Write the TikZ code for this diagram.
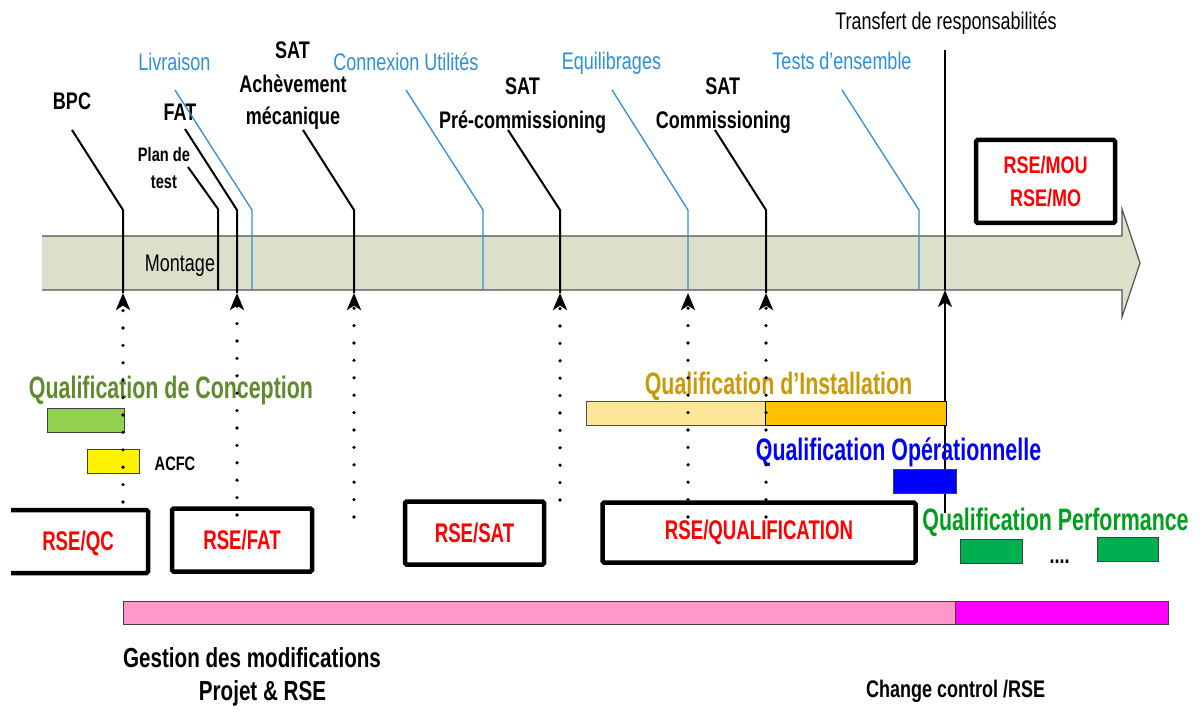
\documentclass[tikz,border=0pt]{standalone}
\usepackage{fontspec}
\setmainfont{Liberation Sans}[FakeStretch=0.75]
\newfontfamily\narrowfont{Liberation Sans}[FakeStretch=0.69]
\usetikzlibrary{arrows.meta}
\definecolor{bandfill}{HTML}{DCE0CA}
\definecolor{bandline}{HTML}{505050}
\definecolor{skyblue}{HTML}{2F8FD8}
\definecolor{goldtxt}{HTML}{C99A06}
\definecolor{lightgold}{HTML}{FFE599}
\definecolor{orangebar}{HTML}{FFC000}
\definecolor{qcgreen}{HTML}{5E8B2E}
\definecolor{qcbar}{HTML}{92D050}
\definecolor{qpgreen}{HTML}{009E1E}
\definecolor{qpbar}{HTML}{00B050}
\definecolor{pinkbar}{HTML}{FF99CC}
\definecolor{magbar}{HTML}{FF00FF}
\begin{document}
\begin{tikzpicture}[x=1pt,y=-1pt,
  lbl/.style={inner sep=0pt, anchor=base, font=\fontsize{24}{28}\selectfont\bfseries},
  lblreg/.style={inner sep=0pt, anchor=base, font=\fontsize{24}{28}\selectfont},
  lblsmall/.style={inner sep=0pt, anchor=base, font=\fontsize{19.5}{22}\selectfont\bfseries},
  qtitle/.style={inner sep=0pt, anchor=base, font=\narrowfont\fontsize{31}{34}\selectfont\bfseries},
  bigtitle/.style={inner sep=0pt, anchor=base, font=\fontsize{27.5}{30}\selectfont\bfseries},
  leader/.style={draw=black, line width=2pt},
  bleader/.style={draw=skyblue, line width=1.3pt},
  arrowhd/.style={-{Stealth[length=17pt,width=14pt,inset=4.5pt]}},
  dotline/.style={line width=3.6pt, line cap=round, dash pattern=on 0pt off 17.4pt},
  rsebox/.style={draw=black, line width=4.5pt, rounded corners=1.5pt, fill=white, text=red,
     font=\narrowfont\fontsize{27}{33}\selectfont\bfseries, inner sep=0pt, align=center},
  bar/.style={draw=black!75, line width=1pt, inner sep=0pt, minimum height=24pt},
]
\useasboundingbox (0,0) rectangle (1202,719);
\fill[white] (0,0) rectangle (1202,719);

% main timeline band
\fill[bandfill] (42,236) -- (1122,236) -- (1122,209) -- (1140,263) -- (1122,317) -- (1122,290) -- (42,290) -- cycle;
\draw[bandline, line width=1.2pt] (42,236) -- (1122,236) -- (1122,209) -- (1140,263) -- (1122,317) -- (1122,290) -- (42,290);
\node[lblreg] (montage) at (180,272) {Montage};

% top labels
\node[lblreg] (transfert) at (946,30) {Transfert de responsabilités};
\node[lblreg, text=skyblue] (livraison) at (174.5,71) {Livraison};
\node[lblreg, text=skyblue] (connexion) at (406,71) {Connexion Utilités};
\node[lblreg, text=skyblue] (equil) at (611.5,70) {Equilibrages};
\node[lblreg, text=skyblue] (tests) at (842,70) {Tests d’ensemble};
\node[lbl] (sat1) at (292.5,59) {SAT};
\node[lbl] (ach) at (293,93) {Achèvement};
\node[lbl] (meca) at (293,125) {mécanique};
\node[lbl] (bpc) at (72,110) {BPC};
\node[lbl] (fat) at (180,121) {FAT};
\node[lblsmall] (plan) at (164,162) {Plan de};
\node[lblsmall] (testlbl) at (164,189) {test};
\node[lbl] (sat2) at (522.5,95) {SAT};
\node[lbl] (pre) at (522.7,129) {Pré-commissioning};
\node[lbl] (sat3) at (722.8,95) {SAT};
\node[lbl] (comm) at (723.3,129) {Commissioning};

% leader coordinates
\coordinate (bpcS) at (72,130);   \coordinate (bpcK) at (123,210); \coordinate (bpcE) at (123,293);
\coordinate (planS) at (188,167); \coordinate (planK) at (218,209); \coordinate (planE) at (218,290);
\coordinate (fatS) at (185,129);  \coordinate (fatK) at (237,210); \coordinate (fatE) at (237,293);
\coordinate (livS) at (175,90);   \coordinate (livK) at (252,210); \coordinate (livE) at (252,290);
\coordinate (achS) at (303,130);  \coordinate (achK) at (354,210); \coordinate (achE) at (354,293);
\coordinate (conS) at (406,90);   \coordinate (conK) at (483,210); \coordinate (conE) at (483,290);
\coordinate (preS) at (508,130);  \coordinate (preK) at (560,210); \coordinate (preE) at (560,293);
\coordinate (equS) at (612,90);   \coordinate (equK) at (688,210); \coordinate (equE) at (688,290);
\coordinate (equA) at (688,293);
\coordinate (comS) at (715,130);  \coordinate (comK) at (766,210); \coordinate (comE) at (766,293);
\coordinate (tesS) at (842,90);   \coordinate (tesK) at (919,210); \coordinate (tesE) at (919,290);
\coordinate (trS) at (945,50);    \coordinate (trE) at (945,290);  \coordinate (trB) at (945,513);

\draw[leader] (bpcS) -- (bpcK) -- (bpcE);
\draw[leader] (planS) -- (planK) -- (planE);
\draw[leader] (fatS) -- (fatK) -- (fatE);
\draw[bleader] (livS) -- (livK) -- (livE);
\draw[leader] (achS) -- (achK) -- (achE);
\draw[bleader] (conS) -- (conK) -- (conE);
\draw[leader] (preS) -- (preK) -- (preE);
\draw[bleader] (equS) -- (equK) -- (equE);
\draw[leader] (comS) -- (comK) -- (comE);
\draw[bleader] (tesS) -- (tesK) -- (tesE);
\draw[black, line width=1.2pt] (trS) -- (trE);
\draw[leader, arrowhd] (trB) -- (trE);

% bars
\node[bar, fill=qcbar, minimum width=77pt] (qcb) at (85.5,420.5) {};
\node[bar, fill=yellow, minimum width=52pt] (acfcb) at (113,461) {};
\node[bar, fill=lightgold, draw=black!70, minimum width=179pt] (qib1) at (675.5,413) {};
\node[bar, fill=orangebar, draw=black, minimum width=181pt] (qib2) at (855.5,413) {};
\node[bar, fill=blue, minimum width=63pt] (qob) at (924.5,481) {};
\node[bar, fill=qpbar, minimum width=62pt] (qpb1) at (991,551) {};
\node[bar, fill=qpbar, minimum width=61pt] (qpb2) at (1127.5,549) {};
\node[bar, fill=pinkbar, minimum width=832pt, minimum height=23pt] (gbar) at (539,612.5) {};
\node[bar, fill=magbar, minimum width=213pt, minimum height=23pt] (ccbar) at (1061.5,612.5) {};

% phase titles
\node[qtitle, text=qcgreen] (qc) at (171,398) {Qualification de Conception};
\node[lblsmall] (acfc) at (175,470) {ACFC};
\node[qtitle, text=goldtxt] (qi) at (778.5,394) {Qualification d’Installation};
\node[qtitle, text=blue] (qo) at (898.5,460) {Qualification Opérationnelle};
\node[qtitle, text=qpgreen] (qp) at (1055.5,530) {Qualification Performance};
\node[lbl] (etc) at (1059.5,563) {....};

% RSE boxes
\begin{scope}
\clip (11,480) rectangle (200,600);
\node[rsebox, minimum width=170pt, minimum height=63pt] (rseqcbox) at (63,541.5) {};
\end{scope}
\node[inner sep=0pt, anchor=base, text=red, font=\narrowfont\fontsize{27}{30}\selectfont\bfseries] (rseqc) at (78,550) {RSE/QC};
\node[rsebox, minimum width=140pt, minimum height=63pt] (rsefat) at (242,540) {RSE/FAT};
\node[rsebox, minimum width=139pt, minimum height=63pt] (rsesat) at (474.5,533) {RSE/SAT};
\node[rsebox, minimum width=313pt, minimum height=60pt] (rsequal) at (759,532.5) {RSE/QUALIFICATION};
\node[rsebox, font=\fontsize{24}{33}\selectfont\bfseries, minimum width=139pt, minimum height=83pt] (rsemou) at (1045.5,181.5) {RSE/MOU\\RSE/MO};

% bottom texts
\node[bigtitle] (gestion) at (252,667) {Gestion des modifications};
\node[bigtitle] (projet) at (262.5,700) {Projet \& RSE};
\node[lbl] (cc) at (955.7,697) {Change control /RSE};

% dotted arrows
\coordinate (bpcD) at (123,502);
\coordinate (fatD) at (237,515);
\coordinate (achD) at (354,517);
\coordinate (preD) at (560,500);
\coordinate (equD) at (688,517);
\coordinate (comD) at (766,517);
\draw[dotline, arrowhd] (bpcD) -- (bpcE);
\draw[dotline, arrowhd] (fatD) -- (fatE);
\draw[dotline, arrowhd] (achD) -- (achE);
\draw[dotline, arrowhd] (preD) -- (preE);
\draw[dotline, arrowhd] (equD) -- (equA);
\draw[dotline, arrowhd] (comD) -- (comE);
\end{tikzpicture}
\end{document}
